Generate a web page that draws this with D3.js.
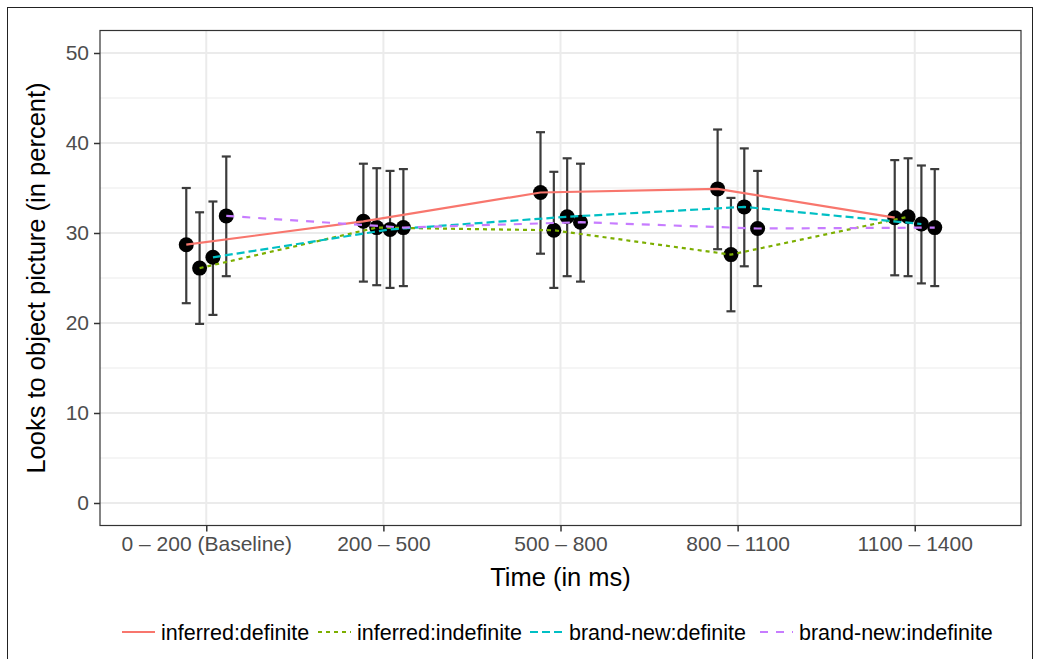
<!DOCTYPE html>
<html>
<head>
  <meta charset="utf-8">
  <title>Looks to object picture</title>
  <script src="https://d3js.org/d3.v7.min.js"></script>
  <style>
    body { margin: 0; background: #fff; }
    text { font-family: "Liberation Sans", Arial, Helvetica, sans-serif; }
  </style>
</head>
<body>
  <div id="chart"></div>
  <script>
    // Time windows on the x axis
    const categories = ["0 – 200 (Baseline)", "200 – 500", "500 – 800", "800 – 1100", "1100 – 1400"];
    // Conditions (one line each)
    const series = ["inferred:definite", "inferred:indefinite", "brand-new:definite", "brand-new:indefinite"];
    const colors = ["#F8766D", "#7CAE00", "#00BFC4", "#C77CFF"];
    const dashes = [null, "4,4", "8,4", "8,8"];

    // Means and error bar limits
    const means = [
      [28.7, 31.3, 34.5, 34.9, 31.7],
      [26.1, 30.6, 30.3, 27.6, 31.8],
      [27.3, 30.4, 31.8, 32.9, 31.0],
      [31.9, 30.6, 31.2, 30.5, 30.6]
    ];
    const upper = [
      [35.0, 37.7, 41.2, 41.5, 38.1],
      [32.3, 37.2, 36.8, 33.9, 38.3],
      [33.5, 36.9, 38.3, 39.4, 37.5],
      [38.5, 37.1, 37.7, 36.9, 37.1]
    ];
    const lower = [
      [22.2, 24.6, 27.7, 28.2, 25.3],
      [19.9, 24.2, 23.9, 21.3, 25.2],
      [20.9, 23.9, 25.2, 26.3, 24.4],
      [25.2, 24.1, 24.6, 24.1, 24.1]
    ];
    const yTicks = [0, 10, 20, 30, 40, 50];
    const yMinor = [5, 15, 25, 35, 45];

    const width = 1040, height = 659;
    const panel = { left: 100, right: 1021, top: 30.5, bottom: 525.5 };

    const svg = d3.select("#chart").append("svg")
      .attr("width", width)
      .attr("height", height);

    // outer frame
    svg.append("rect")
      .attr("x", 7.5).attr("y", 7.5)
      .attr("width", 1025).attr("height", 700)
      .attr("fill", "none").attr("stroke", "#222").attr("stroke-width", 1);

    const x = d3.scalePoint().domain(categories).range([panel.left, panel.right]).padding(0.6);
    const dodge = d3.scalePoint().domain(series).range([-20, 20]);
    const y = d3.scaleLinear().domain([-2.5, 52.5]).range([panel.bottom, panel.top]);

    // grid
    const grid = svg.append("g");
    grid.selectAll(".minor").data(yMinor).enter().append("line")
      .attr("x1", panel.left).attr("x2", panel.right)
      .attr("y1", d => y(d)).attr("y2", d => y(d))
      .attr("stroke", "#EBEBEB").attr("stroke-width", 1);
    grid.selectAll(".major").data(yTicks).enter().append("line")
      .attr("x1", panel.left).attr("x2", panel.right)
      .attr("y1", d => y(d)).attr("y2", d => y(d))
      .attr("stroke", "#EBEBEB").attr("stroke-width", 2);
    grid.selectAll(".vmajor").data(categories).enter().append("line")
      .attr("x1", d => x(d)).attr("x2", d => x(d))
      .attr("y1", panel.top).attr("y2", panel.bottom)
      .attr("stroke", "#EBEBEB").attr("stroke-width", 2);

    // flatten points
    const pts = [];
    series.forEach((s, i) => {
      categories.forEach((c, j) => {
        pts.push({ s, i, c, m: means[i][j], lo: lower[i][j], hi: upper[i][j] });
      });
    });
    const px = d => x(d.c) + dodge(d.s);

    // error bars
    const eb = svg.append("g").attr("stroke", "#3c3c3c").attr("stroke-width", 2.2);
    eb.selectAll(".v").data(pts).enter().append("line")
      .attr("x1", px).attr("x2", px)
      .attr("y1", d => y(d.lo)).attr("y2", d => y(d.hi));
    eb.selectAll(".t").data(pts).enter().append("line")
      .attr("x1", d => px(d) - 4.5).attr("x2", d => px(d) + 4.5)
      .attr("y1", d => y(d.hi)).attr("y2", d => y(d.hi));
    eb.selectAll(".b").data(pts).enter().append("line")
      .attr("x1", d => px(d) - 4.5).attr("x2", d => px(d) + 4.5)
      .attr("y1", d => y(d.lo)).attr("y2", d => y(d.lo));

    // points
    svg.append("g").selectAll("circle").data(pts).enter().append("circle")
      .attr("cx", px).attr("cy", d => y(d.m))
      .attr("r", 7.5).attr("fill", "#000");

    // lines
    const line = d3.line().x(px).y(d => y(d.m));
    series.forEach((s, i) => {
      svg.append("path")
        .datum(pts.filter(p => p.s === s))
        .attr("d", line)
        .attr("fill", "none")
        .attr("stroke", colors[i])
        .attr("stroke-width", 2.2)
        .attr("stroke-dasharray", dashes[i]);
    });

    // panel border
    svg.append("rect")
      .attr("x", panel.left).attr("y", panel.top)
      .attr("width", panel.right - panel.left).attr("height", panel.bottom - panel.top)
      .attr("fill", "none").attr("stroke", "#333").attr("stroke-width", 1.2);

    // axes
    const yAxis = svg.append("g")
      .attr("transform", `translate(${panel.left},0)`)
      .call(d3.axisLeft(y).tickValues(yTicks).tickSize(6).tickPadding(5));
    const xAxis = svg.append("g")
      .attr("transform", `translate(0,${panel.bottom})`)
      .call(d3.axisBottom(x).tickSize(6).tickPadding(5));
    [yAxis, xAxis].forEach(a => {
      a.select(".domain").remove();
      a.selectAll(".tick line").attr("stroke", "#333").attr("stroke-width", 1.5);
      a.selectAll(".tick text")
        .attr("fill", "#4D4D4D")
        .style("font-size", "21px")
        .style("font-family", "'Liberation Sans', Arial, sans-serif");
    });

    // axis titles
    svg.append("text")
      .attr("x", (panel.left + panel.right) / 2)
      .attr("y", 586)
      .attr("text-anchor", "middle")
      .style("font-size", "25.5px")
      .text("Time (in ms)");
    svg.append("text")
      .attr("transform", `translate(45,${(panel.top + panel.bottom) / 2}) rotate(-90)`)
      .attr("text-anchor", "middle")
      .style("font-size", "25.5px")
      .text("Looks to object picture (in percent)");

    // legend
    const legendX = [122, 318, 530, 760];
    const legend = svg.append("g").attr("transform", "translate(0,632)");
    series.forEach((s, i) => {
      const g = legend.append("g").attr("transform", `translate(${legendX[i]},0)`);
      g.append("line")
        .attr("x1", 0).attr("x2", 33).attr("y1", 0).attr("y2", 0)
        .attr("stroke", colors[i]).attr("stroke-width", 2.2)
        .attr("stroke-dasharray", dashes[i]);
      g.append("text")
        .attr("x", 39).attr("y", 7.5)
        .style("font-size", "21.5px")
        .text(s);
    });
  </script>
</body>
</html>
